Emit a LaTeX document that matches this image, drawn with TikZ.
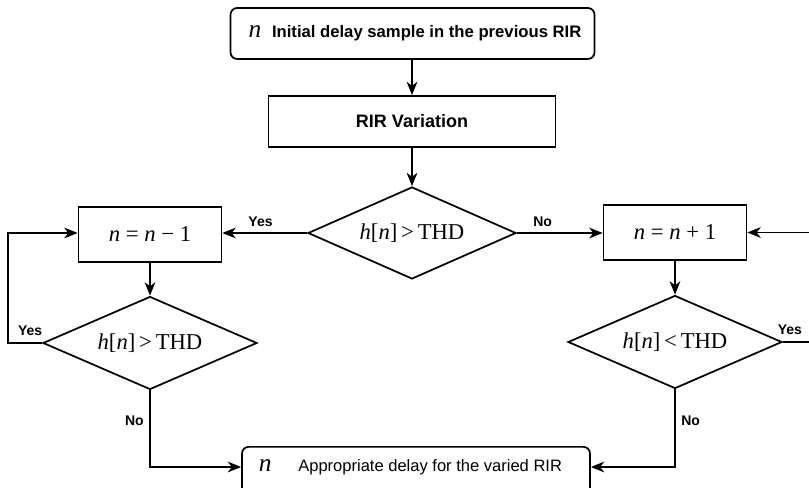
\documentclass[tikz,border=0pt]{standalone}
\usepackage{fontspec}
\setmainfont{Liberation Serif}
\newfontfamily\sansfam{Liberation Sans}
\usetikzlibrary{shapes.geometric,arrows.meta}
\newcommand\vn{\textit{n}}
\newcommand\vh{\textit{h}}
\begin{document}
\begin{tikzpicture}[x=0.75pt,y=-0.75pt,
  frame/.style={draw, line width=1.3pt, inner sep=0pt, align=center},
  procbox/.style={frame, rectangle, minimum width=143*0.75pt, minimum height=55*0.75pt,
    font=\fontsize{17}{20}\selectfont},
  decision/.style={frame, diamond, aspect=2.3, minimum width=212*0.75pt, minimum height=93*0.75pt,
    font=\fontsize{17}{20}\selectfont},
  conn/.style={line width=1.4pt, -{Stealth[length=10pt,width=8pt,inset=3pt]}},
  plain/.style={line width=1.4pt},
  lbl/.style={font=\sansfam\bfseries\fontsize{10.5}{12}\selectfont, inner sep=1pt}
]
\useasboundingbox (0,0) rectangle (809,488);
\clip (0,0) rectangle (809,488);

% start and variation boxes
\node[frame, rounded corners=5pt, minimum width=364*0.75pt, minimum height=51*0.75pt]
  (start) at (412.5,33.5) {};
\node (starttxt) at (415,33.5)
  {{\fontsize{19}{19}\selectfont\itshape n}\hspace{8pt}{\sansfam\bfseries\fontsize{12.5}{14}\selectfont Initial delay sample in the previous RIR}};
\node[frame, rectangle, minimum width=287*0.75pt, minimum height=51*0.75pt,
  font=\sansfam\bfseries\fontsize{13.5}{16}\selectfont] (var) at (412,121.5) {RIR Variation};

% first test
\node[decision, minimum width=208*0.75pt, minimum height=92*0.75pt] (d0) at (412,233) {\vh[\vn]\,>\,THD};

% decreasing branch
\node[procbox] (dec) at (150,234.5) {\vn\ = \vn\ − 1};
\node[decision, minimum width=214*0.75pt] (dl) at (150,343) {\vh[\vn]\,>\,THD};

% increasing branch
\node[procbox] (inc) at (675,232.5) {\vn\ = \vn\ + 1};
\node[decision, minimum width=214*0.75pt] (dr) at (675,342) {\vh[\vn]\,<\,THD};

% result box, running past the lower edge
\node[frame, rounded corners=5pt, minimum width=348*0.75pt, minimum height=60*0.75pt, anchor=north]
  (res) at (416,446) {};
\node (restxt) at (410.5,467)
  {{\fontsize{19}{19}\selectfont\itshape n}\hspace{20pt}{\sansfam\fontsize{12.4}{14}\selectfont Appropriate delay for the varied RIR}};

% turn points of the loops
\coordinate (lloop) at (8,343);
\coordinate (rloop) at (830,342);

% connectors
\draw[conn] (start.south -| var.north) -- (var.north);
\draw[conn] (var) -- (d0);
\draw[conn] (d0.west) -- node[lbl, above=3pt, pos=0.55] {Yes} (dec.east |- d0.west);
\draw[conn] (d0.east) -- node[lbl, above=3pt, pos=0.3] {No} (inc.west |- d0.east);
\draw[conn] (dec) -- (dl);
\draw[conn] (inc) -- (dr);
\draw[conn] (dl.west) -- node[lbl, above=4pt, pos=0.35] {Yes} (lloop) |- (dec.west |- d0.west);
\draw[plain] (dr.east) -- node[lbl, above=4pt, pos=0.15] {Yes} (rloop);
\draw[conn] (rloop) |- (inc.east);
\draw[conn] (dl.south) |- node[lbl, left=3pt, pos=0.2] {No} (res.west |- restxt.center);
\draw[conn] (dr.south) |- node[lbl, right=3pt, pos=0.2] {No} (res.east |- restxt.center);
\end{tikzpicture}
\end{document}
